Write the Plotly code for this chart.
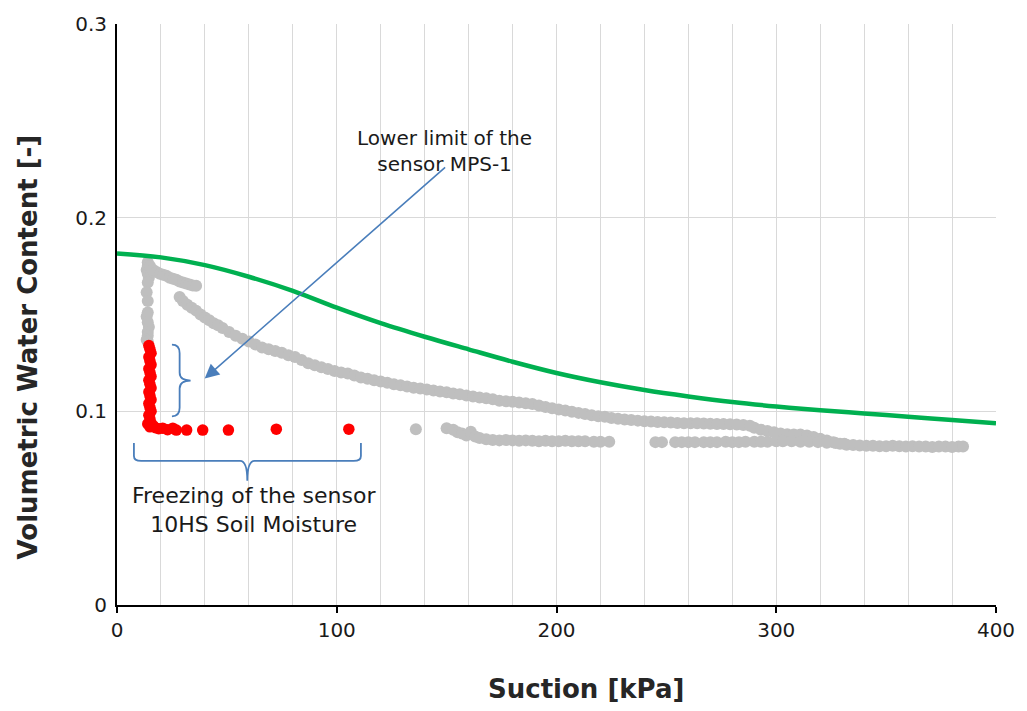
import plotly.graph_objects as go

# ---------------- data ----------------
# fitted retention curve (green)
fit_x = [0, 20, 40, 60, 80, 100, 120, 140, 160, 180, 200, 220, 240, 260, 280, 300, 320, 340, 360, 380, 400]
fit_y = [0.1815, 0.1795, 0.1755, 0.1695, 0.1622, 0.1535, 0.1455, 0.1385, 0.1320, 0.1256, 0.1198, 0.1150, 0.1110, 0.1077, 0.1048, 0.1025, 0.1006, 0.0989, 0.0972, 0.0955, 0.0938]

# measured MPS-1 suction vs 10HS water content (grey)
grey_col_x = [14, 14, 13.5, 14, 14.5, 14, 13.5, 14, 14, 13.5, 14, 14.5, 14, 14, 13.5, 14]
grey_col_y = [0.177, 0.175, 0.173, 0.171, 0.169, 0.1665, 0.1615, 0.157, 0.151, 0.149, 0.146, 0.1436, 0.141, 0.139, 0.137, 0.136]

grey_up_x = [15, 16.5, 18, 19.5, 21, 22.5, 24, 25.5, 27, 28.5, 30, 31.5, 33, 34.5, 36]
grey_up_y = [0.175, 0.173, 0.172, 0.171, 0.1705, 0.170, 0.169, 0.1685, 0.168, 0.167, 0.1665, 0.166, 0.1655, 0.165, 0.1648]

grey_main_x = [28.5, 30, 32, 34, 36, 38, 40, 42, 44, 46, 48, 51, 54, 57, 60, 63, 66, 69, 72, 75, 78, 81, 84, 87,
               90, 93, 96, 99, 102, 105, 108, 111, 114, 117, 120, 123, 126, 129, 132, 135, 138, 141, 144, 147,
               150, 153, 156, 159, 162, 165, 168, 171, 174, 177, 180, 183, 186, 189, 192, 195, 198, 201, 204,
               207, 210, 213, 216, 219, 222, 225, 228, 231, 234, 237, 240, 243, 246, 249, 252, 255, 258, 261,
               264, 267, 270, 273, 276, 279, 282, 285, 288, 290, 293, 296, 299, 302, 305, 308, 311, 314, 317,
               320, 323, 326, 329, 332, 335, 338, 341, 344, 347, 350, 353, 356, 359, 362, 365, 368, 371, 374,
               377, 380, 383, 385]
grey_main_y = [0.159, 0.157, 0.155, 0.1535, 0.152, 0.150, 0.1485, 0.147, 0.1455, 0.1445, 0.143, 0.141, 0.139, 0.1375, 0.136, 0.1345, 0.133, 0.132, 0.1312, 0.1302, 0.129, 0.128, 0.1265, 0.1248,
               0.1238, 0.1228, 0.1218, 0.1208, 0.1200, 0.1195, 0.1185, 0.1175, 0.1168, 0.1160, 0.1154, 0.1148, 0.1140, 0.1135, 0.1128, 0.1122, 0.1118, 0.1113, 0.1108, 0.1102,
               0.1098, 0.1092, 0.1088, 0.1082, 0.1077, 0.1072, 0.1068, 0.1062, 0.1055, 0.1052, 0.1050, 0.1046, 0.1042, 0.1038, 0.1030, 0.1022, 0.1016, 0.1010, 0.1004,
               0.0998, 0.0992, 0.0986, 0.0980, 0.0975, 0.0972, 0.0966, 0.0962, 0.0958, 0.0955, 0.0952, 0.0949, 0.0947, 0.0945, 0.0943, 0.0942, 0.0940, 0.0939, 0.0938,
               0.0938, 0.0937, 0.0936, 0.0935, 0.0934, 0.0933, 0.0932, 0.0930, 0.0925, 0.0915, 0.0905, 0.0898, 0.0892, 0.0885, 0.0882, 0.0880, 0.0880, 0.0875, 0.0868,
               0.0858, 0.0850, 0.0840, 0.0832, 0.0828, 0.0826, 0.0824, 0.0822, 0.0822, 0.0820, 0.0820, 0.0822, 0.0820, 0.0818, 0.0820, 0.0818, 0.0818, 0.0816, 0.0818,
               0.0818, 0.0816, 0.0818, 0.0818]

grey_low_x = [136, 150, 153, 155, 157, 159, 161, 163, 165, 168, 171, 174, 177, 180, 183, 186, 189, 192, 195, 198, 201, 204,
              207, 210, 213, 217, 220, 224, 245, 248, 254, 257, 260, 263, 267, 270, 273, 277, 280, 283, 286, 290, 293,
              296, 300, 303, 307, 311, 315, 319, 323, 327, 331]
grey_low_y = [0.0908, 0.0913, 0.0905, 0.0892, 0.0885, 0.0875, 0.0895, 0.0870, 0.0862, 0.0856, 0.0852, 0.0850, 0.0852, 0.0850, 0.0848, 0.0850, 0.0848, 0.0846, 0.0848, 0.0846, 0.0846, 0.0848,
              0.0846, 0.0846, 0.0846, 0.0843, 0.0843, 0.0843, 0.0841, 0.0841, 0.0841, 0.0841, 0.0841, 0.0841, 0.0841, 0.0841, 0.0841, 0.0843, 0.0841, 0.0841, 0.0843, 0.0843, 0.0843,
              0.0843, 0.0845, 0.0845, 0.0845, 0.0843, 0.0843, 0.0841, 0.0838, 0.0836, 0.0832]

# frozen 10HS sensor readings (red)
red_x = [14.5, 15, 15.5, 14.5, 15, 15.5, 14.5, 15, 15.5, 14.5, 15, 15.5, 14.5, 15, 15.5, 14.5, 15, 15.5, 14.5, 15, 15.5,
         14, 15, 16.5, 17.5, 19, 20.8, 23, 25.4, 27, 31.7, 39, 50.7, 72.5, 105.5]
red_y = [0.134, 0.132, 0.130, 0.128, 0.126, 0.124, 0.122, 0.120, 0.118, 0.116, 0.114, 0.112, 0.110, 0.108, 0.106, 0.104, 0.102, 0.100, 0.098, 0.096, 0.094,
         0.0935, 0.0920, 0.0925, 0.0915, 0.0910, 0.0913, 0.0905, 0.0913, 0.0903, 0.0903, 0.0903, 0.0903, 0.0908, 0.0908]

x_ticks = [0, 100, 200, 300, 400]
y_ticks = [0, 0.1, 0.2, 0.3]
y_tick_text = ["0", "0.1", "0.2", "0.3"]

GREY = "#BFBFBF"
RED = "#FF0000"
GREEN = "#00B050"
BLUE = "#4A7EBB"
FONT = "DejaVu Sans"

fig = go.Figure()

for gx, gy in [(grey_col_x, grey_col_y), (grey_up_x, grey_up_y), (grey_main_x, grey_main_y), (grey_low_x, grey_low_y)]:
    fig.add_trace(go.Scatter(x=gx, y=gy, mode="markers",
                             marker=dict(color=GREY, size=12, line=dict(width=0)),
                             showlegend=False, hoverinfo="skip"))

fig.add_trace(go.Scatter(x=red_x, y=red_y, mode="markers",
                         marker=dict(color=RED, size=11.5, line=dict(width=0)),
                         showlegend=False))

fig.add_trace(go.Scatter(x=fit_x, y=fit_y, mode="lines",
                         line=dict(color=GREEN, width=4.5, shape="spline", smoothing=1.0),
                         showlegend=False))

# braces
fig.add_shape(type="path", xref="x", yref="y",
              path="M 25,0.1344 Q 28.5,0.1344 28.5,0.130 L 28.5,0.1200 Q 28.5,0.1159 33.5,0.1159 "
                   "Q 28.5,0.1159 28.5,0.1118 L 28.5,0.1018 Q 28.5,0.0974 25,0.0974",
              line=dict(color=BLUE, width=1.8))
fig.add_shape(type="path", xref="x", yref="y",
              path="M 7.7,0.0836 L 7.7,0.0770 Q 7.7,0.0744 11,0.0744 L 56,0.0744 Q 59.3,0.0744 59.3,0.0641 "
                   "Q 59.3,0.0744 62.6,0.0744 L 107.7,0.0744 Q 111,0.0744 111,0.0770 L 111,0.0836",
              line=dict(color=BLUE, width=1.8))

# arrow
fig.add_annotation(x=39.9, y=0.1169, ax=150, ay=0.2267, xref="x", yref="y", axref="x", ayref="y",
                   text="", showarrow=True, arrowhead=2, arrowsize=1.8, arrowwidth=1.6, arrowcolor=BLUE)

fig.add_annotation(x=149, y=0.2344, xref="x", yref="y", text="Lower limit of the<br>sensor MPS-1",
                   showarrow=False, font=dict(family=FONT, size=20, color="#1a1a1a"), align="center")
fig.add_annotation(x=62.5, y=0.0492, xref="x", yref="y", text="Freezing of the sensor<br>10HS Soil Moisture",
                   showarrow=False, font=dict(family=FONT, size=22, color="#1a1a1a"), align="center")

# axis titles
fig.add_annotation(x=-0.1008, y=0.444, xref="paper", yref="paper", text="<b>Volumetric Water Content [-]</b>",
                   textangle=-90, showarrow=False, font=dict(family=FONT, size=26, color="#262626"),
                   xanchor="center", yanchor="middle")
fig.add_annotation(x=0.533, y=-0.145, xref="paper", yref="paper", text="<b>Suction [kPa]</b>",
                   showarrow=False, font=dict(family=FONT, size=26, color="#262626"),
                   xanchor="center", yanchor="middle")

fig.update_xaxes(range=[0, 400], tickvals=x_ticks, showgrid=True, gridcolor="#D9D9D9", gridwidth=1,
                 minor=dict(dtick=20, showgrid=True, gridcolor="#D9D9D9", gridwidth=1, ticks=""),
                 showline=True, linecolor="black", linewidth=2,
                 ticks="outside", ticklen=6, tickcolor="black", tickwidth=1.5,
                 tickfont=dict(family=FONT, size=20, color="#1a1a1a"), zeroline=False)
fig.update_yaxes(range=[0, 0.3], tickvals=y_ticks, ticktext=y_tick_text, showgrid=True, gridcolor="#D9D9D9",
                 gridwidth=1, showline=True, linecolor="black", linewidth=2,
                 ticks="outside", ticklen=4, tickcolor="rgba(0,0,0,0)",
                 tickfont=dict(family=FONT, size=20, color="#1a1a1a"), zeroline=False)

fig.update_layout(width=1027, height=711, margin=dict(l=117, r=27, t=20, b=106),
                  plot_bgcolor="white", paper_bgcolor="white", showlegend=False)

fig.write_html("out.html")
